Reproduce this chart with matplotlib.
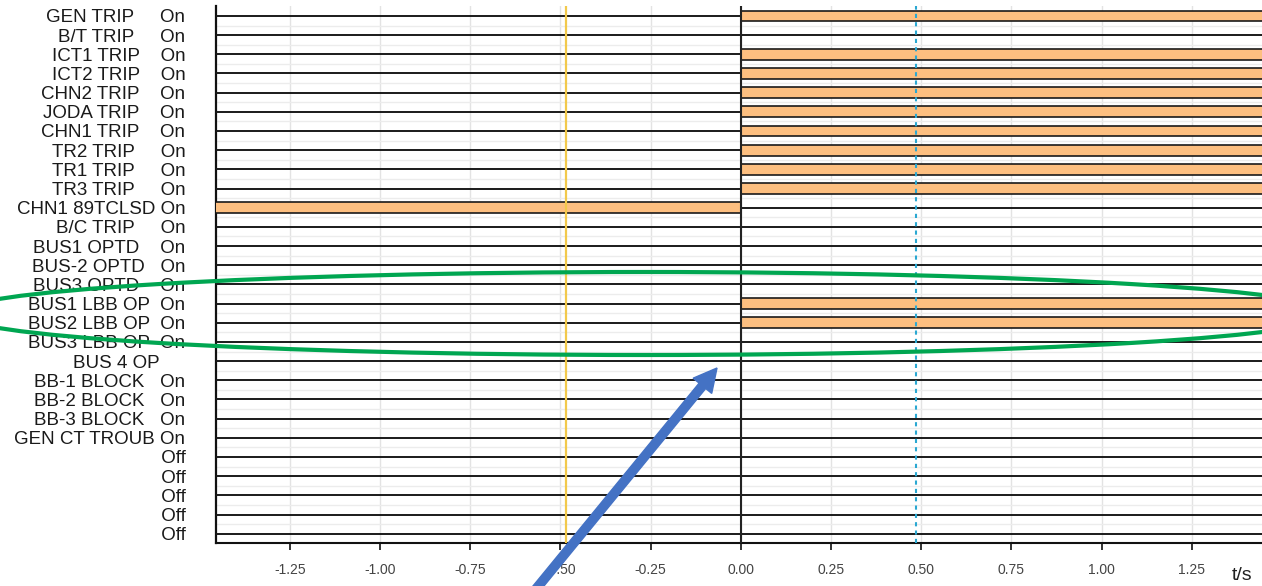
import matplotlib.pyplot as plt
from matplotlib.patches import Ellipse, FancyArrow
from matplotlib.ticker import NullLocator

plt.rcParams['font.family'] = ['Liberation Sans', 'DejaVu Sans']

# record window and cursors (s)
T_START = -1.46
T_END = 1.46
TRIGGER = 0.0
CURSOR_A = -0.485
CURSOR_B = 0.485

# digital channels, top to bottom
channels = [
    'GEN TRIP', 'B/T TRIP', 'ICT1 TRIP', 'ICT2 TRIP', 'CHN2 TRIP',
    'JODA TRIP', 'CHN1 TRIP', 'TR2 TRIP', 'TR1 TRIP', 'TR3 TRIP',
    'CHN1 89TCLSD', 'B/C TRIP', 'BUS1 OPTD', 'BUS-2 OPTD', 'BUS3 OPTD',
    'BUS1 LBB OP', 'BUS2 LBB OP', 'BUS3 LBB OP', 'BUS 4 OP', 'BB-1 BLOCK',
    'BB-2 BLOCK', 'BB-3 BLOCK', 'GEN CT TROUB', '', '', '', '', '',
]
states = ['On'] * 18 + [''] + ['On'] * 4 + ['Off'] * 5

# active interval of each channel (None = stays low)
on_from = [0.0, None, 0.0, 0.0, 0.0, 0.0, 0.0, 0.0, 0.0, 0.0,
           T_START, None, None, None, None, 0.0, 0.0, None, None, None,
           None, None, None, None, None, None, None, None]
on_to = [T_END, None, T_END, T_END, T_END, T_END, T_END, T_END, T_END, T_END,
         0.0, None, None, None, None, T_END, T_END, None, None, None,
         None, None, None, None, None, None, None, None]

xticks = [-1.25, -1.0, -0.75, -0.5, -0.25, 0.0, 0.25, 0.5, 0.75, 1.0, 1.25]


fig = plt.figure(figsize=(12.62, 5.86), dpi=100)
ax = fig.add_axes([0.1712, 0.0729, 0.8288, 0.9163])

n = len(channels)
rows = list(range(n))

# ===== traces =====
for i in rows:
    t0, t1 = on_from[i], on_to[i]
    if t0 is None:
        ax.hlines(i, T_START, T_END, color='#1a1a1a', lw=1.4, zorder=3)
        continue
    # low parts of the trace
    if t0 > T_START:
        ax.hlines(i, T_START, t0, color='#1a1a1a', lw=1.4, zorder=3)
    if t1 < T_END:
        ax.hlines(i, t1, T_END, color='#1a1a1a', lw=1.4, zorder=3)
    # high part drawn as a filled band
    ax.barh(i, t1 - t0, left=t0, height=0.56, color='#FDBF80',
            edgecolor='#1a1a1a', linewidth=1.2, zorder=3)

# cursors and trigger
ax.axvline(CURSOR_A, color='#F2C94C', lw=1.6, zorder=4)
ax.axvline(CURSOR_B, color='#2AA8D2', lw=1.5, ls=(0, (2, 2)), zorder=4)
ax.axvline(TRIGGER, color='#222222', lw=1.5, zorder=4)

# axes and grid
ax.set_xlim(-1.455, 1.445)
ax.set_ylim(n - 0.5, -0.5)
ax.set_xticks(xticks)
ax.set_xticklabels([f'{t:.2f}' for t in xticks])
ax.xaxis.set_minor_locator(NullLocator())
ax.set_yticks(rows)
ax.set_yticklabels([c.ljust(13) + s for c, s in zip(channels, states)])
ax.set_yticks([r + 0.5 for r in rows], minor=True)
# light grid: one line per time tick, one between neighbouring channels
for t in xticks:
    ax.axvline(t, color='#e3e3e3', lw=1.0, zorder=1)
for r in rows:
    ax.axhline(r + 0.5, color='#ececec', lw=1.0, zorder=1)

ax.tick_params(axis='y', which='both', length=0, pad=22, labelsize=13.5,
               labelcolor='#1a1a1a')
ax.tick_params(axis='x', length=5, width=1.3, color='#222222', pad=9,
               labelsize=10, labelcolor='#444444')

for side in ['top', 'right']:
    ax.spines[side].set_visible(False)
ax.spines['left'].set_linewidth(1.6)
ax.spines['bottom'].set_linewidth(1.5)
ax.spines['left'].set_color('#111111')
ax.spines['bottom'].set_color('#111111')

ax.set_xlabel('t/s', fontsize=14, color='#222222', loc='right')
ax.xaxis.set_label_coords(0.991, -0.045)

# ===== hand-drawn highlights on top of the chart =====
fig.add_artist(Ellipse((645 / 1262, 1 - 313.5 / 586), width=1380 / 1262,
                       height=83 / 586, transform=fig.transFigure,
                       fill=False, ec='#00A651', lw=3, zorder=10))
fig.add_artist(FancyArrow(5.27, -0.14, 1.90, 2.32, width=0.085,
                          head_width=0.24, head_length=0.23,
                          length_includes_head=True, color='#4472C4',
                          transform=fig.dpi_scale_trans, zorder=11))

plt.savefig('out.png', dpi=100)
